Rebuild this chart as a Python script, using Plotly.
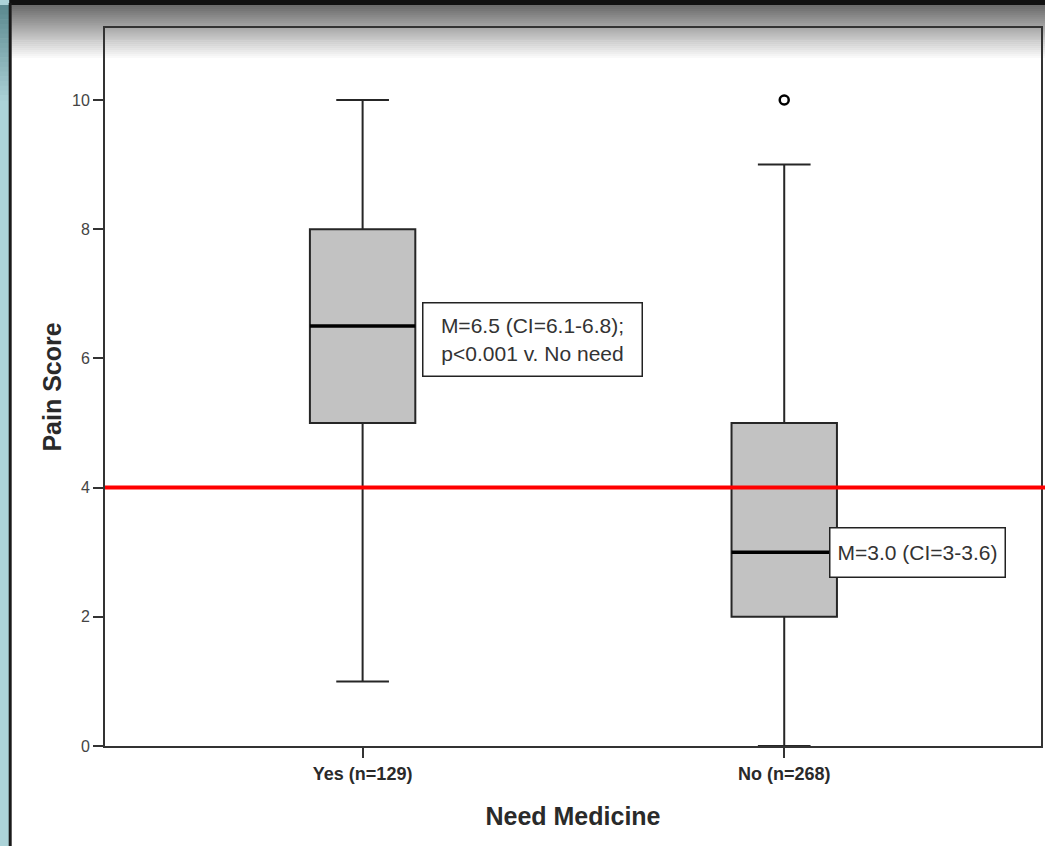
import plotly.graph_objects as go

# ---- data ----
categories = ["Yes (n=129)", "No (n=268)"]
positions = [0, 1]
q1 = [5, 2]
median = [6.5, 3]
q3 = [8, 5]
lowerfence = [1, 0]
upperfence = [10, 9]
outlier_x = [1]
outlier_y = [10]
threshold = 4
y_ticks = [0, 2, 4, 6, 8, 10]
notes = ["M=6.5 (CI=6.1-6.8);<br>p<0.001 v. No need", "M=3.0 (CI=3-3.6)"]
note_y = [6.3, 3.0]

W, H = 1045, 846
ML, MR, MT, MB = 105, 2, 28, 100
PW = W - ML - MR
PH = H - MT - MB
FONT = "Liberation Sans, Arial, sans-serif"
BOXW = 0.25


def px_x(p):
    return (p - ML) / PW


def px_y(p):
    return (H - MB - p) / PH


fig = go.Figure()

fig.add_trace(go.Box(
    x=positions, q1=q1, median=median, q3=q3,
    lowerfence=lowerfence, upperfence=upperfence,
    width=BOXW, whiskerwidth=0.5, boxpoints=False,
    fillcolor="#c2c2c2", line=dict(color="#262626", width=2),
    showlegend=False, hoverinfo="skip"))

# thicker median lines
for p, m in zip(positions, median):
    fig.add_trace(go.Scatter(
        x=[p - BOXW / 2, p + BOXW / 2], y=[m, m], mode="lines",
        line=dict(color="#000000", width=3.5), showlegend=False, hoverinfo="skip"))

fig.add_trace(go.Scatter(
    x=outlier_x, y=outlier_y, mode="markers",
    marker=dict(symbol="circle-open", size=9, color="#000000", line=dict(width=2.5)),
    showlegend=False, hoverinfo="skip"))

shapes = []
# threshold line
shapes.append(dict(type="line", xref="paper", yref="y", x0=0, x1=px_x(W + 5),
                   y0=threshold, y1=threshold, line=dict(color="#ff0000", width=4),
                   layer="above"))

# top gradient (screenshot frame)
n = 28
y_start, y_end = 5, 60
for i in range(n):
    t = i / (n - 1)
    g = int(0x6c + (0xff - 0x6c) * t)
    ya = y_start + (y_end - y_start) * i / n
    yb = y_start + (y_end - y_start) * (i + 1) / n + 0.5
    shapes.append(dict(type="rect", xref="paper", yref="paper",
                       x0=px_x(11), x1=px_x(W + 2), y0=px_y(yb), y1=px_y(ya),
                       fillcolor=f"rgb({g},{g},{g})", line=dict(width=0), layer="below"))
# top black bar
shapes.append(dict(type="rect", xref="paper", yref="paper",
                   x0=px_x(0), x1=px_x(W + 2), y0=px_y(5), y1=px_y(-2),
                   fillcolor="#111111", line=dict(width=0), layer="above"))
# left teal strip: uniform light teal, darker near the top
shapes.append(dict(type="rect", xref="paper", yref="paper",
                   x0=px_x(-2), x1=px_x(9), y0=px_y(H + 2), y1=px_y(0),
                   fillcolor="#acd3d8", line=dict(width=0), layer="above"))
m = 20
for i in range(m):
    t = i / m
    r = int(0x5c + (0xac - 0x5c) * t)
    gg = int(0x8a + (0xd3 - 0x8a) * t)
    b = int(0x90 + (0xd8 - 0x90) * t)
    ya = 5 + 95 * i / m
    yb = 5 + 95 * (i + 1) / m + 0.5
    shapes.append(dict(type="rect", xref="paper", yref="paper",
                       x0=px_x(-2), x1=px_x(9), y0=px_y(yb), y1=px_y(ya),
                       fillcolor=f"rgb({r},{gg},{b})", line=dict(width=0), layer="above"))
shapes.append(dict(type="rect", xref="paper", yref="paper",
                   x0=px_x(8.5), x1=px_x(11.5), y0=px_y(H + 2), y1=px_y(3),
                   fillcolor="#1a1a1a", line=dict(width=0), layer="above"))

annotations = []
annotations.append(dict(x=positions[0] + BOXW / 2 + 0.017, y=note_y[0], xref="x", yref="y",
                        text=notes[0], showarrow=False, xanchor="left", yanchor="middle",
                        align="center", width=204, height=58,
                        font=dict(family=FONT, size=21, color="#333333"),
                        bgcolor="#ffffff", bordercolor="#222222", borderwidth=1.5, borderpad=7))
annotations.append(dict(x=positions[1] + 0.107, y=note_y[1], xref="x", yref="y",
                        text=notes[1], showarrow=False, xanchor="left", yanchor="middle",
                        align="center", width=162, height=36,
                        font=dict(family=FONT, size=21, color="#333333"),
                        bgcolor="#ffffff", bordercolor="#222222", borderwidth=1.5, borderpad=6))

fig.update_layout(
    width=W, height=H,
    margin=dict(l=ML, r=MR, t=MT, b=MB, pad=0),
    paper_bgcolor="#ffffff", plot_bgcolor="#ffffff",
    shapes=shapes, annotations=annotations,
    font=dict(family=FONT, color="#333333"),
    xaxis=dict(range=[-0.611, 1.609], tickmode="array", tickvals=positions,
               ticktext=[f"<b>{c}</b>" for c in categories],
               tickfont=dict(size=18, color="#2a2a2a"),
               showline=True, mirror=True, linecolor="#333333", linewidth=2,
               ticks="outside", ticklen=10, tickwidth=1.5, tickcolor="#333333",
               showgrid=False, zeroline=False,
               title=dict(text="<b>Need Medicine</b>", font=dict(size=25, color="#2a2a2a"),
                          standoff=25)),
    yaxis=dict(range=[0, (H - MB - MT) / 64.6], tickmode="array", tickvals=y_ticks,
               tickfont=dict(size=16, color="#444444"),
               showline=True, mirror=True, linecolor="#333333", linewidth=2,
               ticks="outside", ticklen=10, tickwidth=1.5, tickcolor="#333333",
               showgrid=False, zeroline=False,
               title=dict(text="<b>Pain Score</b>", font=dict(size=25, color="#2a2a2a"),
                          standoff=3)),
)

fig.write_html("out.html", config={"displayModeBar": False},
               post_script="document.body.style.margin='0';document.body.style.overflow='hidden';")
